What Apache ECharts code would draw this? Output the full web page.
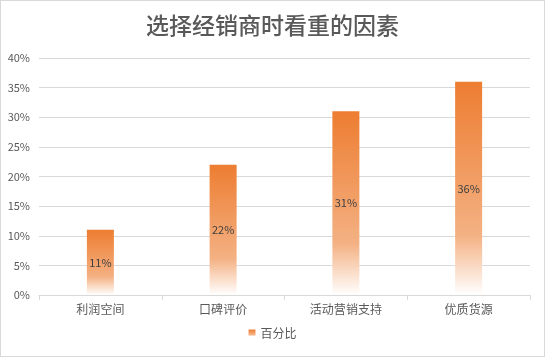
<!DOCTYPE html>
<html><head><meta charset="utf-8">
<script src="https://cdn.jsdelivr.net/npm/echarts@6/dist/echarts.min.js"></script>
<style>
html,body{margin:0;padding:0;background:#fff;}
#c{width:543px;height:355px;border:1px solid #d9d9d9;}
</style></head>
<body><div id="c"></div>
<script>
const categories = ['利润空间','口碑评价','活动营销支持','优质货源'];
const values = [11, 22, 31, 36];
const seriesName = '百分比';
const yTicks = [0,5,10,15,20,25,30,35,40];

const chart = echarts.init(document.getElementById('c'));
const font = "'Microsoft YaHei','Noto Sans CJK SC',sans-serif";
chart.setOption({
  animation:false,
  title:{text:'选择经销商时看重的因素',left:'center',top:8,
    textStyle:{fontFamily:"'Noto Sans CJK SC',sans-serif",fontSize:23,fontWeight:500,color:'#595959'}},
  grid:{left:38,right:14,top:57,bottom:61},
  legend:{bottom:12,left:'center',icon:'rect',itemWidth:7,itemHeight:7,itemGap:5,
    textStyle:{fontFamily:font,fontSize:12,color:'#595959'},data:[seriesName]},
  xAxis:{type:'category',data:categories,
    axisLine:{lineStyle:{color:'#d9d9d9'}},
    axisTick:{show:true,length:5,lineStyle:{color:'#d9d9d9'}},
    axisLabel:{fontFamily:font,fontSize:12,color:'#595959',margin:8}},
  yAxis:{type:'value',min:yTicks[0],max:yTicks[yTicks.length-1],interval:5,
    axisLabel:{formatter:v=>v+'%',fontFamily:font,fontSize:11,color:'#595959',margin:9},
    splitLine:{lineStyle:{color:'#d9d9d9'}},axisLine:{show:false},axisTick:{show:false}},
  series:[{name:seriesName,type:'bar',barWidth:27,data:values,
    itemStyle:{color:new echarts.graphic.LinearGradient(0,0,0,1,[
      {offset:0,color:'#ED7D31'},{offset:0.72,color:'#F4B183'},{offset:1,color:'#FFFFFF'}])},
    label:{show:true,position:'inside',formatter:p=>p.value+'%',fontFamily:font,fontSize:11,color:'#404040'}}]
});
</script></body></html>
